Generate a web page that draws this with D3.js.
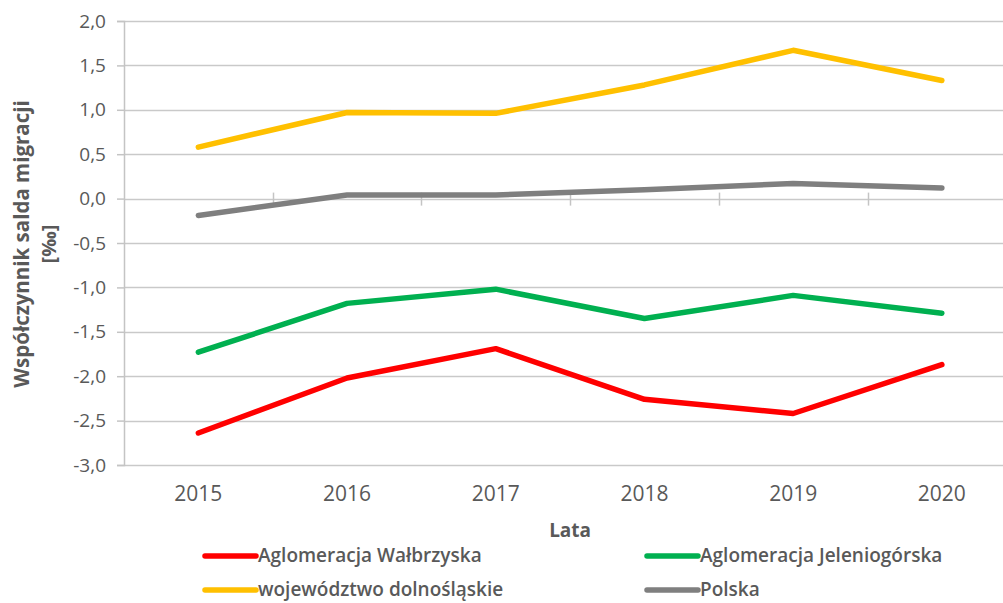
<!DOCTYPE html>
<html>
<head>
<meta charset="utf-8">
<script src="https://cdn.jsdelivr.net/npm/d3@7"></script>
<style>
  html, body { margin: 0; padding: 0; background: #fff; }
  svg { display: block; }
  text { font-family: "Open Sans", "Liberation Sans", sans-serif; fill: #595959; }
</style>
</head>
<body>
<svg id="chart" width="1003" height="603"></svg>
<script>
const years = ["2015", "2016", "2017", "2018", "2019", "2020"];
const walbrzyska = [-2.64, -2.02, -1.69, -2.26, -2.42, -1.87];
const jeleniogorska = [-1.73, -1.18, -1.02, -1.35, -1.09, -1.29];
const dolnoslaskie = [0.58, 0.97, 0.96, 1.28, 1.67, 1.33];
const polska = [-0.19, 0.04, 0.04, 0.10, 0.17, 0.12];
const yTicks = [-3, -2.5, -2, -1.5, -1, -0.5, 0, 0.5, 1, 1.5, 2];
const seriesNames = ["Aglomeracja Wałbrzyska", "Aglomeracja Jeleniogórska", "województwo dolnośląskie", "Polska"];
const seriesColors = ["#ff0000", "#00b050", "#ffc000", "#7f7f7f"];

const series = [walbrzyska, jeleniogorska, dolnoslaskie, polska].map((v, i) => ({
  name: seriesNames[i], color: seriesColors[i], values: v
}));

const svg = d3.select("#chart");
const plotLeft = 124, plotTop = 21, plotBottom = 465, step = 148.7;
const x = d3.scaleBand().domain(years).range([plotLeft, plotLeft + step * years.length]).padding(0);
const y = d3.scaleLinear().domain([-3, 2]).range([plotBottom, plotTop]);
const fmt = v => d3.format(".1f")(v).replace(".", ",").replace("−", "-");

// gridlines
svg.append("g").selectAll("line").data(yTicks).join("line")
  .attr("x1", plotLeft).attr("x2", 1003)
  .attr("y1", d => Math.round(y(d)) + 0.5).attr("y2", d => Math.round(y(d)) + 0.5)
  .attr("stroke", "#c9c9c9").attr("stroke-width", 1.5);

// y axis
const yAxis = svg.append("g").attr("transform", `translate(${plotLeft},0)`)
  .call(d3.axisLeft(y).tickValues(yTicks).tickFormat(fmt).tickSize(7).tickPadding(11));
yAxis.select(".domain").attr("stroke", "#c4c4c4").attr("stroke-width", 1.5);
yAxis.selectAll(".tick line").attr("stroke", "#c4c4c4").attr("stroke-width", 1.5);
yAxis.selectAll(".tick text").attr("font-size", 19).attr("fill", "#595959")
  .attr("font-family", "Open Sans, sans-serif");

// x axis at zero line: tick marks at category boundaries
const boundaries = years.slice(1);
svg.append("g").selectAll("line").data(boundaries).join("line")
  .attr("x1", d => Math.round(x(d)) + 0.5).attr("x2", d => Math.round(x(d)) + 0.5)
  .attr("y1", y(0) - 6).attr("y2", y(0) + 7)
  .attr("stroke", "#c4c4c4").attr("stroke-width", 1.5);

// x labels at bottom
svg.append("g").selectAll("text").data(years).join("text")
  .attr("x", d => x(d) + x.bandwidth() / 2).attr("y", 501)
  .attr("text-anchor", "middle").attr("font-size", 21)
  .text(d => d);

// lines
const line = d3.line().x((d, i) => x(years[i]) + x.bandwidth() / 2).y(d => y(d));
svg.append("g").selectAll("path").data(series).join("path")
  .attr("d", d => line(d.values))
  .attr("fill", "none").attr("stroke", d => d.color)
  .attr("stroke-width", 5.5).attr("stroke-linecap", "round").attr("stroke-linejoin", "round");

// axis titles
svg.append("text").attr("x", (plotLeft + x.range()[1]) / 2).attr("y", 537)
  .attr("text-anchor", "middle").attr("font-size", 19).attr("font-weight", 700)
  .text("Lata");
svg.append("text").attr("transform", "translate(29,244) rotate(-90)")
  .attr("text-anchor", "middle").attr("font-size", 20.5).attr("font-weight", 700)
  .text("Współczynnik salda migracji");
svg.append("text").attr("transform", "translate(56,244) rotate(-90)")
  .attr("text-anchor", "middle").attr("font-size", 20).attr("font-weight", 700)
  .text("[‰]");

// legend
const legendPos = [[205, 556], [647, 556], [205, 590], [647, 590]];
const lg = svg.append("g").selectAll("g").data(series).join("g")
  .attr("transform", (d, i) => `translate(${legendPos[i][0]},${legendPos[i][1]})`);
lg.append("line").attr("x1", 0).attr("x2", 51).attr("y1", 0).attr("y2", 0)
  .attr("stroke", d => d.color).attr("stroke-width", 5.5).attr("stroke-linecap", "round");
lg.append("text").attr("x", 53).attr("y", 6).attr("font-size", 19).attr("font-weight", 600)
  .text(d => d.name);
</script>
</body>
</html>
